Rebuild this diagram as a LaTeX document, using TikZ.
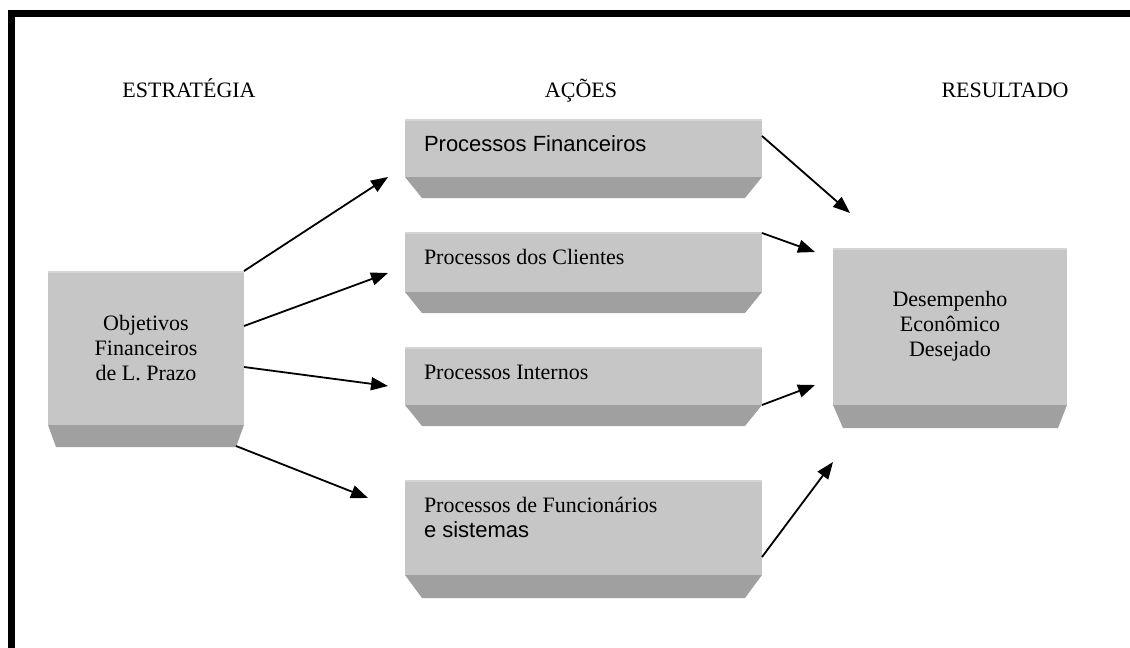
\documentclass[tikz,border=0pt]{standalone}
\usepackage{fontspec}
\setmainfont{Liberation Serif}
\newfontfamily\arialf{Liberation Sans}
\usetikzlibrary{arrows.meta,calc}
\definecolor{facegray}{RGB}{198,198,198}
\definecolor{bevelgray}{RGB}{160,160,160}
\definecolor{topgray}{RGB}{212,212,212}
\begin{document}
\begin{tikzpicture}[x=1pt,y=-1pt,
  boxface/.style={rectangle, fill=facegray, inner sep=0pt, outer sep=0pt},
  txt/.style={inner sep=0pt, outer sep=0pt, font=\fontsize{22}{25}\selectfont},
  head/.style={inner sep=0pt, anchor=base, font=\fontsize{22}{25}\selectfont},
  conn/.style={line width=1.8pt, -{Triangle[length=17pt,width=13pt]}},
  bev/.style={fill=bevelgray}]
\useasboundingbox (0,0) rectangle (1130,648);
\fill[white] (0,0) rectangle (1130,648);
% frame
\draw[line width=7pt, line join=miter] (11,648) -- (11,13.5) -- (1130,13.5);

% headers
\node[head] (hstr) at (189,97) {ESTRATÉGIA};
\node[head] (hacc) at (581,97) {AÇÕES};
\node[head] (hres) at (1005,97) {RESULTADO};

% left box
\node[boxface, minimum width=196pt, minimum height=154pt, align=center,
      font=\fontsize{22}{25}\selectfont] (obj) at (146,348)
      {Objetivos\\Financeiros\\de L. Prazo};
\fill[bev] (obj.south west) -- (obj.south east) -- ++(-8,22) -- ($(obj.south west)+(8,22)$) -- cycle;

% process boxes
\node[boxface, minimum width=357pt, minimum height=58pt] (pf) at (583.5,148) {};
\node[boxface, minimum width=357pt, minimum height=60pt] (pc) at (583.5,262) {};
\node[boxface, minimum width=357pt, minimum height=58pt] (pi) at (583.5,376) {};
\node[boxface, minimum width=357pt, minimum height=95pt] (pfs) at (583.5,527.5) {};
\foreach \b/\h in {pf/21,pc/21,pi/21,pfs/23}{
  \fill[bev] (\b.south west) -- (\b.south east) -- ++(-17,\h) -- ($(\b.south west)+(17,\h)$) -- cycle;
  \draw[topgray, line width=2pt] ($(\b.north west)+(0,1)$) -- ($(\b.north east)+(0,1)$);
}
\node[txt, anchor=base west, font=\arialf\fontsize{22}{25}\selectfont] (tpf) at (424,151) {Processos Financeiros};
\node[txt, anchor=base west] (tpc) at (424,264) {Processos dos Clientes};
\node[txt, anchor=base west] (tpi) at (424,379) {Processos Internos};
\node[txt, anchor=base west] (tpfs1) at (424,512) {Processos de Funcionários};
\node[txt, anchor=base west, font=\arialf\fontsize{22}{25}\selectfont] (tpfs2) at (424,537) {e sistemas};

% right box
\node[boxface, minimum width=234pt, minimum height=157pt, align=center,
      font=\fontsize{22}{25}\selectfont] (des) at (950,326.5)
      {Desempenho\\Econômico\\Desejado};
\fill[bev] (des.south west) -- (des.south east) -- ++(-9,23) -- ($(des.south west)+(10,23)$) -- cycle;
\draw[topgray, line width=2pt] ($(obj.north west)+(0,1)$) -- ($(obj.north east)+(0,1)$);
\draw[topgray, line width=2pt] ($(des.north west)+(0,1)$) -- ($(des.north east)+(0,1)$);

% arrow ends
\coordinate (e1) at (388,177);
\coordinate (e2) at (388,273);
\coordinate (e3) at (388,386);
\coordinate (e4) at (368,498);
\coordinate (e5) at (850,213);
\coordinate (e6) at (815,252);
\coordinate (e7) at (815,385);
\coordinate (e8) at (833,462);

\draw[conn] (obj.north east) -- (e1);
\draw[conn] ([yshift=-55pt]obj.north east) -- (e2);
\draw[conn] ([yshift=-96pt]obj.north east) -- (e3);
\draw[conn] ([xshift=-8pt,yshift=-21pt]obj.south east) -- (e4);
\draw[conn] ([yshift=-17pt]pf.north east) -- (e5);
\draw[conn] ([yshift=-1pt]pc.north east) -- (e6);
\draw[conn] (pi.south east) -- (e7);
\draw[conn] ([yshift=-77pt]pfs.north east) -- (e8);
\end{tikzpicture}
\end{document}
